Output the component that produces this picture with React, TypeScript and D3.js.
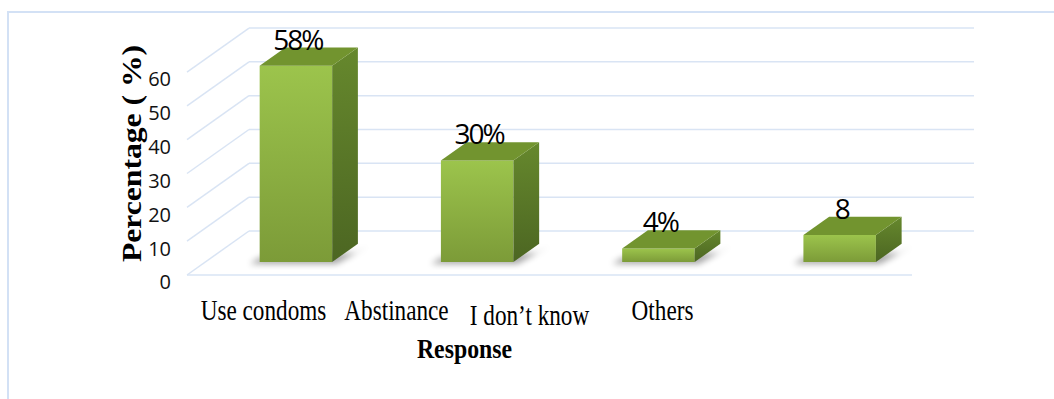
import React from "react";
import * as d3 from "d3";

const categories = ["Use condoms", "Abstinance", "I don\u2019t know", "Others"];
const values = [58, 30, 4, 8];
const valueLabels = ["58%", "30%", "4%", "8"];
const yTicks = [0, 10, 20, 30, 40, 50, 60];
const yTitle = "Percentage ( %)";
const xTitle = "Response";

const W = 1054;
const H = 399;
const floorLeft = 187;
const floorRight = 912;
const floorFrontY = 275;
const depthDx = 62;
const depthDy = -44;
const t0 = 0.295;
const t1 = 0.71;

const proj = (x: number, y: number, t: number): [number, number] => [x + depthDx * t, y + depthDy * t];
const pts = (arr: [number, number][]) => arr.map((p) => p.join(",")).join(" ");

export default function App() {
  const y = d3.scaleLinear().domain([0, 60]).range([floorFrontY, floorFrontY - 60 * 3.383]);
  const x = d3
    .scaleBand<string>()
    .domain(categories)
    .range([floorLeft, floorRight])
    .paddingInner(0.6)
    .paddingOuter(0.3);
  const labelX = d3.scalePoint<string>().domain(categories).range([263.5, 662.5]);
  const bw = x.bandwidth();
  const gridColor = "#d9e4f4";

  return (
    <svg width={W} height={H} style={{ position: "absolute", left: 0, top: 0, background: "#fff" }}>
      <defs>
        <linearGradient id="front" x1="0" y1="0" x2="0" y2="1">
          <stop offset="0" stopColor="#9cc44c" />
          <stop offset="1" stopColor="#7c9b38" />
        </linearGradient>
        <linearGradient id="side" x1="0" y1="0" x2="0" y2="1">
          <stop offset="0" stopColor="#66882d" />
          <stop offset="1" stopColor="#4c6622" />
        </linearGradient>
        <filter id="blur" x="-30%" y="-30%" width="160%" height="160%">
          <feGaussianBlur stdDeviation="3" />
        </filter>
      </defs>
      {/* frame */}
      <rect x={8} y={12} width={1100} height={420} fill="none" stroke="#d3e1f5" strokeWidth={2} />

      {/* gridlines */}
      {yTicks.map((v) => {
        const [fx, fy] = [floorLeft, y(v)];
        const [bx, by] = proj(fx, fy, 1);
        return (
          <g key={v}>
            <line x1={fx} y1={fy} x2={bx} y2={by} stroke={gridColor} strokeWidth={1.5} />
            <line x1={bx} y1={by} x2={floorRight + depthDx} y2={by} stroke={gridColor} strokeWidth={1.5} />
          </g>
        );
      })}
      <line x1={floorLeft} y1={y(0)} x2={floorRight} y2={y(0)} stroke={gridColor} strokeWidth={1.5} />

      {/* tick labels */}
      {yTicks.map((v) => (
        <text
          key={v}
          x={171}
          y={y(v) + 9}
          textAnchor="end"
          dominantBaseline="middle"
          fontFamily="'Open Sans', sans-serif"
          fontSize={20}
          fill="#111"
        >
          {v}
        </text>
      ))}

      {/* bars */}
      {categories.map((c, i) => {
        const x0 = x(c) as number;
        const x1 = x0 + bw;
        const yb = y(0);
        const yt = y(values[i]);
        const shadow: [number, number][] = [
          proj(x0 - 10, yb + 2, t0),
          proj(x1 + 4, yb + 2, t0),
          proj(x1 + 14, yb, t1 - 0.05),
          proj(x1 + 10, yb, t1 - 0.2),
          proj(x0 - 6, yb, t0 + 0.1),
        ];
        const front: [number, number][] = [proj(x0, yt, t0), proj(x1, yt, t0), proj(x1, yb, t0), proj(x0, yb, t0)];
        const side: [number, number][] = [proj(x1, yt, t0), proj(x1, yt, t1), proj(x1, yb, t1), proj(x1, yb, t0)];
        const top: [number, number][] = [proj(x0, yt, t0), proj(x1, yt, t0), proj(x1, yt, t1), proj(x0, yt, t1)];
        const [lx] = proj(x0 + bw / 2 + 2, yt, t0);
        const [, ly] = proj(x0, yt, t1);
        return (
          <g key={c}>
            <polygon points={pts(shadow)} fill="#000" opacity={0.35} filter="url(#blur)" />
            <polygon points={pts(front)} fill="url(#front)" />
            <polygon points={pts(side)} fill="url(#side)" />
            <polygon points={pts(top)} fill="#72942f" />
            <text
              x={lx}
              y={ly + 2}
              textAnchor="middle"
              fontFamily="'Open Sans', sans-serif"
              fontSize={28}
              letterSpacing={-2}
              fill="#000"
            >
              {valueLabels[i]}
            </text>
          </g>
        );
      })}

      {/* category labels */}
      {categories.map((c, i) => (
        <text
          key={c}
          transform={`translate(${labelX(c)},${i === 2 ? 325 : 320}) scale(0.8,1)`}
          textAnchor="middle"
          fontFamily="'Liberation Serif', 'Times New Roman', serif"
          fontSize={29}
          fill="#000"
        >
          {c}
        </text>
      ))}

      {/* axis titles */}
      <text
        transform="translate(464.5,358) scale(0.85,1)"
        textAnchor="middle"
        fontFamily="'Liberation Serif', 'Times New Roman', serif"
        fontWeight="bold"
        fontSize={28}
        fill="#000"
      >
        {xTitle}
      </text>
      <text
        transform="translate(141,153.5) rotate(-90)"
        textAnchor="middle"
        fontFamily="'Liberation Serif', 'Times New Roman', serif"
        fontWeight="bold"
        fontSize={28}
        textLength={217}
        lengthAdjust="spacingAndGlyphs"
        fill="#000"
      >
        {yTitle}
      </text>
    </svg>
  );
}
